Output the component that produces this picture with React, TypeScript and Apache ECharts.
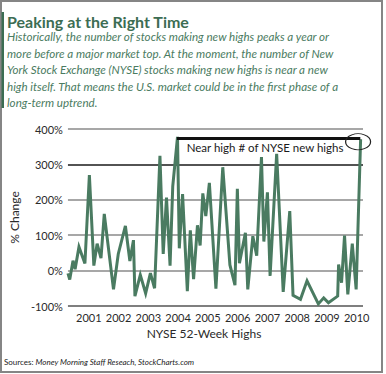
import React, { useEffect, useRef } from "react";
import * as echarts from "echarts";

const dates = [
  2000.30, 2000.36, 2000.47, 2000.54, 2000.67, 2000.87, 2001.02, 2001.17, 2001.28, 2001.41,
  2001.52, 2001.83, 2001.99, 2002.23, 2002.38, 2002.50, 2002.55, 2002.73, 2002.91, 2003.07,
  2003.21, 2003.39, 2003.50, 2003.61, 2003.73, 2003.82, 2003.98, 2004.04, 2004.15, 2004.31,
  2004.41, 2004.52, 2004.65, 2004.74, 2004.83, 2004.93, 2005.05, 2005.27, 2005.50, 2005.74,
  2005.91, 2005.99, 2006.06, 2006.26, 2006.34, 2006.51, 2006.64, 2006.80, 2006.88, 2007.00,
  2007.09, 2007.31, 2007.53, 2007.75, 2007.86, 2008.11, 2008.33, 2008.71, 2008.89, 2009.05,
  2009.36, 2009.39, 2009.49, 2009.59, 2009.70, 2009.85, 2009.98, 2010.13,
];
// % change of NYSE 52-week highs
const values = [
  -8, -25, 28, 4, 67, 20, 270, 14, 76, 35,
  160, -53, 47, 126, 27, 86, -72, -12, -64, -7,
  -50, 324, 47, 206, 14, 238, 378, 63, 216, -58,
  114, -24, 128, 71, 218, 154, 248, -51, 292, 16,
  -41, 231, 21, 107, -53, 97, 42, 321, 82, 221,
  -15, 330, -60, 168, -70, -81, -29, -94, -77, -91,
  -72, 17, -34, 99, -67, 76, -53, 371,
];
const yearTicks = [2001, 2002, 2003, 2004, 2005, 2006, 2007, 2008, 2009, 2010];
const annotationText = "Near high # of NYSE new highs";
const titleText = "Peaking at the Right Time";
const bodyLines = [
  "Historically, the number of stocks making new highs peaks a year or",
  "more before a major market top. At the moment, the number of New",
  "York Stock Exchange (NYSE) stocks making new highs is near a new",
  "high itself. That means the U.S. market could be in the first phase of a",
  "long-term uptrend.",
];
const xName = "NYSE 52-Week Highs";
const yName = "% Change";
const sourceLabel = "Sources: ";
const sourceText = "Money Morning Staff Reseach, StockCharts.com";

const FONT = "Lato, 'Noto Sans', sans-serif";
const GREEN = "#4a7b61";
const TITLE_GREEN = "#3c6d53";

export default function App() {
  const ref = useRef<HTMLDivElement>(null);
  useEffect(() => {
    if (!ref.current) return;
    const chart = echarts.init(ref.current, null, { renderer: "svg" });
    const data = dates.map((d, i) => [d, values[i]]);
    chart.setOption({
      animation: false,
      backgroundColor: "#ffffff",
      grid: { left: 57, right: 23, top: 129, bottom: 68, containLabel: false },
      xAxis: {
        type: "value",
        min: 2000.3,
        max: 2010.21,
        axisLine: { show: false },
        axisTick: { show: false },
        splitLine: { show: false },
        axisLabel: {
          customValues: yearTicks,
          formatter: (v: number) => String(Math.round(v)),
          color: "#2a2a2a",
          fontSize: 11,
          fontFamily: FONT,
          margin: 6,
        },
      },
      yAxis: {
        type: "value",
        min: -100,
        max: 400,
        interval: 100,
        name: yName,
        nameLocation: "middle",
        nameGap: 45,
        nameTextStyle: { color: "#2a2a2a", fontSize: 12, fontFamily: FONT },
        axisLine: { show: false },
        axisTick: { show: false },
        axisLabel: {
          formatter: "{value}%",
          color: "#2a2a2a",
          fontSize: 11,
          fontFamily: FONT,
          margin: 5,
        },
        splitLine: {
          show: true,
          lineStyle: {
            color: ["#555555", "#8a8a8a", "#8a8a8a", "#8a8a8a", "#1a1a1a", "#8a8a8a"],
            width: 1.5,
          },
        },
      },
      series: [
        {
          type: "line",
          data,
          symbol: "none",
          lineStyle: { color: GREEN, width: 3, join: "miter" },
          markLine: {
            silent: true,
            symbol: ["none", "none"],
            label: { show: false },
            lineStyle: { color: "#111111", width: 3, type: "solid" },
            data: [[{ coord: [2003.96, 375] }, { coord: [2010.12, 375] }]],
          },
          markPoint: {
            silent: true,
            data: [
              {
                coord: [2006.92, 347],
                symbol: "rect",
                symbolSize: [1, 1],
                itemStyle: { color: "rgba(0,0,0,0)" },
                label: {
                  show: true,
                  position: "inside",
                  formatter: annotationText,
                  color: "#1a1a1a",
                  fontSize: 11.5,
                  fontFamily: FONT,
                },
              },
              {
                coord: [2010.045, 364],
                symbol: "circle",
                symbolSize: [25, 16],
                itemStyle: { color: "rgba(0,0,0,0)", borderColor: "#222222", borderWidth: 1 },
                label: { show: false },
              },
            ],
          },
        },
      ],
      graphic: [
        {
          type: "rect",
          shape: { x: 1, y: 1, width: 381, height: 371 },
          style: { fill: "none", stroke: "#858585", lineWidth: 2 },
          silent: true,
        },
        {
          type: "rect",
          shape: { x: 1.5, y: 12, width: 2.5, height: 96 },
          style: { fill: TITLE_GREEN },
          silent: true,
        },
        {
          type: "text",
          x: 7,
          y: 21,
          style: {
            text: titleText,
            fill: TITLE_GREEN,
            font: `bold 16px ${FONT}`,
            textVerticalAlign: "middle",
          },
        },
        {
          type: "text",
          x: 7,
          y: 28.5,
          style: {
            text: bodyLines.join("\n"),
            fill: GREEN,
            font: `italic 11.6px ${FONT}`,
            lineHeight: 16.5,
          },
        },
        {
          type: "text",
          x: 204,
          y: 333,
          style: {
            text: xName,
            fill: "#2a2a2a",
            font: `12px ${FONT}`,
            textAlign: "center",
            textVerticalAlign: "middle",
          },
        },
        {
          type: "text",
          x: 4,
          y: 362,
          style: {
            text: `{a|${sourceLabel}}{b|${sourceText}}`,
            textVerticalAlign: "middle",
            rich: {
              a: { fontSize: 8, fontFamily: FONT, fill: "#222222" },
              b: { fontSize: 8, fontFamily: FONT, fontStyle: "italic", fill: "#222222" },
            },
          },
        },
      ],
    });
    return () => chart.dispose();
  }, []);
  return (
    <div
      ref={ref}
      style={{ position: "absolute", left: 0, top: 0, width: 386, height: 374 }}
    />
  );
}
